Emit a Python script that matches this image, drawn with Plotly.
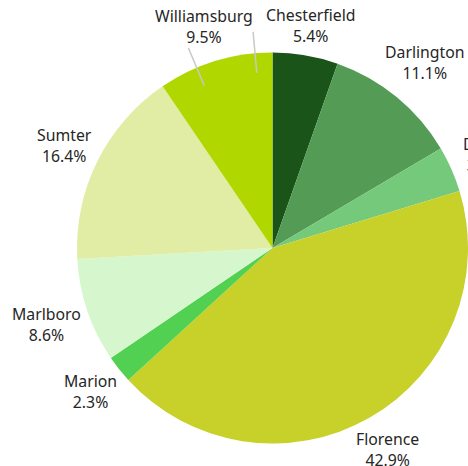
import math
import plotly.graph_objects as go

counties = ["Chesterfield", "Darlington", "Dillon", "Florence", "Marion",
            "Marlboro", "Sumter", "Williamsburg"]
shares = [5.4, 11.1, 3.8, 42.9, 2.3, 8.6, 16.4, 9.5]
colors = ["#1a5419", "#549b56", "#74c97a", "#c7d12a", "#52d052",
          "#d6f6cd", "#e1eda4", "#b1d700"]

W, H = 468, 466
FONT = "Noto Sans"
FSIZE = 15.8
dom_x = [77 / W, 1.0]
dom_y = [(H - 443.5) / H, (H - 52.5) / H]

fig = go.Figure(go.Pie(
    labels=counties,
    values=shares,
    sort=False,
    direction="clockwise",
    rotation=0,
    marker=dict(colors=colors, line=dict(width=0)),
    textinfo="none",
    showlegend=False,
    hoverinfo="label+percent",
    domain=dict(x=dom_x, y=dom_y),
))

# geometry of the pie in pixels (derived from the domain)
cx = (dom_x[0] + dom_x[1]) / 2 * W
cy = H * (1 - (dom_y[0] + dom_y[1]) / 2)
R = min((dom_x[1] - dom_x[0]) * W, (dom_y[1] - dom_y[0]) * H) / 2

total = sum(shares)
annotations = []
shapes = []
cum = 0.0
char_w = FSIZE * 0.5
half_h = FSIZE * 0.85
for name, v in zip(counties, shares):
    start = cum / total * 2 * math.pi
    mid = (cum + v / 2) / total * 2 * math.pi
    cum += v
    s, c = math.sin(mid), math.cos(mid)
    txt_pct = f"{v:.1f}%"
    hw = max(len(name), len(txt_pct)) * char_w / 2
    d = R + 9 + hw * abs(s) + half_h * abs(c)
    px, py = cx + d * s, cy - d * c
    annotations.append(dict(
        x=px / W, y=1 - py / H, xref="paper", yref="paper",
        text=f"{name}<br>{txt_pct}", showarrow=False,
        xanchor="center", yanchor="middle", align="center",
        font=dict(family=FONT, size=FSIZE, color="#262626"),
    ))
    if name == "Williamsburg":
        end = cum / total * 2 * math.pi
        for frac in (1 / 3, 0.85):
            a = start + frac * (end - start)
            r0, r1 = R * 0.9, R * 1.11
            shapes.append(dict(
                type="line", xref="paper", yref="paper",
                x0=(cx + r0 * math.sin(a)) / W, y0=1 - (cy - r0 * math.cos(a)) / H,
                x1=(cx + r1 * math.sin(a)) / W, y1=1 - (cy - r1 * math.cos(a)) / H,
                line=dict(color="#c8c8c8", width=1.5),
            ))

fig.update_layout(
    width=W, height=H,
    margin=dict(l=0, r=0, t=0, b=0),
    paper_bgcolor="white",
    plot_bgcolor="white",
    annotations=annotations,
    shapes=shapes,
)
fig.write_html("out.html")
